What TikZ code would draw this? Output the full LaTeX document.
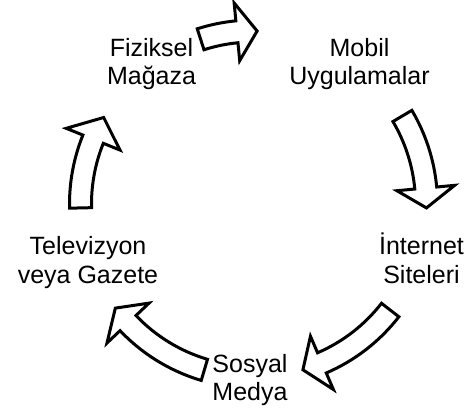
\documentclass[tikz,border=0pt]{standalone}
\usepackage{fontspec}
\setmainfont{Liberation Sans}
% curved block arrow on the cycle: tail angle, head base angle, tip angle
\newcommand\cycarrow[3]{%
  \path[cyc] (#1:184) arc[start angle=#1, end angle=#2, radius=184]
    -- (#2:202) -- (#3:173) -- (#2:144) -- (#2:162)
    arc[start angle=#2, end angle=#1, radius=162] -- cycle;}
\begin{document}
\begin{tikzpicture}[x=1pt,y=1pt,
  lbl/.style={font=\fontsize{25}{28}\selectfont, align=center, anchor=base, inner sep=0pt, text=black},
  cyc/.style={draw=black, fill=white, line width=3pt, line join=miter, miter limit=10}]
\useasboundingbox (0,0) rectangle (464,408);
\node[lbl] (fiz) at (151.5,323.5) {Fiziksel\\Mağaza};
\node[lbl] (mob) at (359.5,323.5) {Mobil\\Uygulamalar};
\node[lbl] (int) at (421.5,125) {İnternet\\Siteleri};
\node[lbl] (sos) at (250,8) {Sosyal\\Medya};
\node[lbl] (tel) at (88,125) {Televizyon\\veya Gazete};
\begin{scope}[shift={(253.5,204)}]
  \cycarrow{107.8}{95.5}{88.8}
  \cycarrow{30.6}{5.3}{-1.3}
  \cycarrow{-37.8}{-66.7}{-73.4}
  \cycarrow{-106.5}{-136.5}{-143}
  \cycarrow{181.3}{158}{150}
\end{scope}
\end{tikzpicture}
\end{document}
